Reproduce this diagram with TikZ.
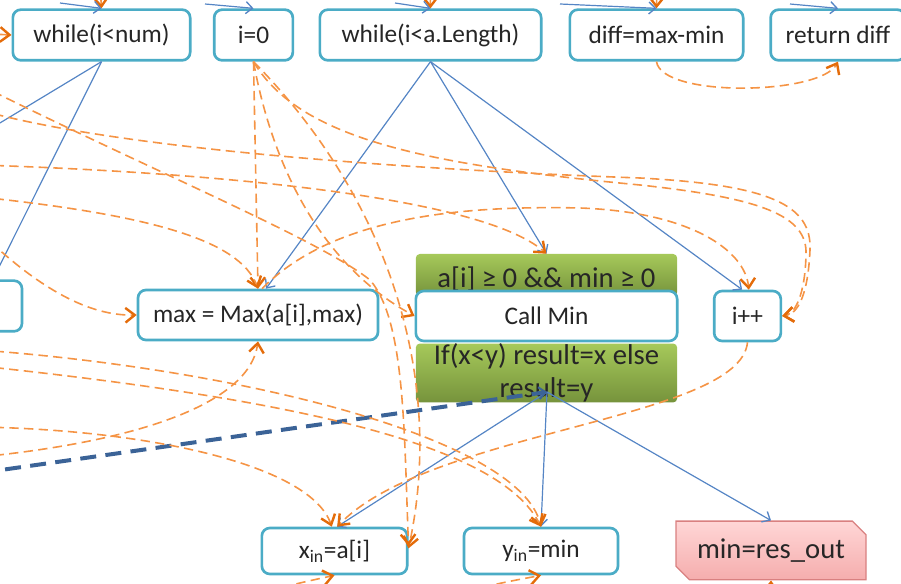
\documentclass[tikz,border=0pt]{standalone}
\usepackage{fontspec}
\setmainfont{Carlito}
\usetikzlibrary{arrows.meta,shapes.misc}
\definecolor{boxcyan}{HTML}{4BACC6}
\definecolor{flowor}{HTML}{F59445}
\definecolor{flowtip}{HTML}{E46C0A}
\definecolor{datab}{HTML}{5585C5}
\definecolor{callb}{HTML}{3B6397}
\definecolor{grlight}{HTML}{A6C95A}
\definecolor{grdark}{HTML}{76933C}
\definecolor{redtop}{HTML}{FFD6D6}
\definecolor{redbot}{HTML}{F5ADAD}
\definecolor{redline}{HTML}{D98080}
\begin{document}
\begin{tikzpicture}[x=0.75pt,y=-0.75pt,
    every node/.style={font=\fontsize{19}{25}\selectfont, text=black!85},
    stmt/.style={draw=boxcyan, line width=2pt, rounded corners=6pt, fill=white, minimum height=38pt, inner sep=2pt},
    guard/.style={rectangle, rounded corners=3pt, top color=grlight, bottom color=grdark, minimum width=196pt, inner ysep=0pt, align=center, font=\fontsize{21.5}{25}\selectfont},
    outp/.style={chamfered rectangle, chamfered rectangle corners={north east,south west}, chamfered rectangle xsep=7pt, draw=redline, line width=1pt, top color=redtop, bottom color=redbot, font=\fontsize{21.5}{25}\selectfont},
    flow/.style={draw=flowor, line width=1.2pt, dash pattern=on 7pt off 4pt, -{Straight Barb[length=7pt,width=11pt,color=flowtip,line width=1.8pt]}},
    data/.style={draw=datab, line width=0.9pt, -{Straight Barb[length=5pt,width=9pt,line width=1pt]}},
    call/.style={draw=callb, line width=3pt, dash pattern=on 12pt off 7pt, -{Straight Barb[length=5pt,width=9pt,line width=1.5pt]}}]
    \useasboundingbox (0,0) rectangle (901,584);
    \clip (0,0) rectangle (901,584);
    % statements
    \node[stmt, minimum width=133pt] (wnum) at (101.5,35) {while(i<num)};
    \node[stmt, minimum width=59pt] (izero) at (253.5,35) {i=0};
    \node[stmt, minimum width=166pt] (wlen) at (430.5,35) {while(i<a.Length)};
    \node[stmt, minimum width=130pt] (diff) at (656.5,35) {diff=max-min};
    \node[stmt, minimum width=101pt] (ret) at (838,35) {return diff};
    \node[stmt, minimum width=60pt] (prev) at (-18,306) {};
    \node[stmt, minimum width=180pt, minimum height=37.5pt] (maxn) at (258,315) {max = Max(a[i],max)};
    % call block
    \node[guard, minimum height=31.5pt, text height=20pt, text depth=1pt] (cond) at (546.5,275) {a[i] ≥ 0 \&\& min ≥ 0};
    \node[guard, minimum height=40pt] (body) at (546.5,373) {If(x<y) result=x else\\result=y};
    \node[stmt, minimum width=196pt, minimum height=37.5pt] (callmin) at (546.5,316) {Call Min};
    \node[stmt, minimum width=50pt, minimum height=37.5pt] (ipp) at (747.5,316) {i++};
    \node[stmt, minimum width=109pt, minimum height=34.5pt] (xin) at (334.5,551) {x\textsubscript{in}=a[i]};
    \node[stmt, minimum width=115.5pt, minimum height=34.5pt] (yin) at (541,551) {y\textsubscript{in}=min};
    \node[outp, minimum width=142.5pt, minimum height=44pt] (minres) at (771,550.5) {min=res\_out};
    \coordinate (res) at (547,392);
    % ends outside the view
    \coordinate (inA) at (-20,85);
    \coordinate (inB) at (-20,110);
    \coordinate (inC) at (-20,165);
    \coordinate (inD) at (-20,197);
    \coordinate (inE) at (-20,232);
    \coordinate (inF) at (-20,350);
    \coordinate (inG) at (-20,366);
    \coordinate (inH) at (-20,427);
    \coordinate (inI) at (-20,457);
    \coordinate (inJ) at (-20,473);
    \coordinate (outA) at (-20,135);
    \coordinate (outB) at (-20,305);
    % data flow
    \draw[data] (wnum.south) -- (outA);
    \draw[data] (wnum.south) -- (outB);
    \draw[data] (wlen.south) -- ([xshift=6pt]maxn.north);
    \draw[data] (wlen.south) -- (cond.north);
    \draw[data] (wlen.south) -- ([xshift=-4pt]ipp.north);
    \draw[data] (res) -- ([xshift=2pt]xin.north);
    \draw[data] (res) -- (yin.north);
    \draw[data] (res) -- (minres.north);
    \draw[call] (inJ) -- (res);
    % control flow
    \draw[flow] (diff.south) .. controls (662,98) and (820,95) .. (ret.south);
    \draw[flow] (izero.south) -- (maxn.north);
    \draw[flow] (izero.south) .. controls (275,180) and (330,270) .. (callmin.west);
    \draw[flow] (izero.south) .. controls (390,200) and (445,380) .. ([yshift=2pt]xin.east);
    \draw[flow] (izero.south) .. controls (300,140) and (430,165) .. (640,185) .. controls (760,198) and (808,215) .. (806,255) .. controls (805,295) and (795,314) .. (ipp.east);
    \draw[flow] (inB) .. controls (120,150) and (420,170) .. (640,178) .. controls (770,185) and (812,205) .. (810,250) .. controls (808,295) and (798,314) .. (ipp.east);
    \draw[flow] (inA) .. controls (150,170) and (320,240) .. (370,280) .. controls (405,320) and (404,430) .. ([yshift=4pt]xin.east);
    \draw[flow] (inC) .. controls (200,172) and (480,195) .. (cond.north);
    \draw[flow] (inD) .. controls (150,215) and (240,240) .. (maxn.north);
    \draw[flow] (inE) .. controls (40,290) and (90,316) .. (maxn.west);
    \draw[flow] ([xshift=3pt]maxn.north) .. controls (330,220) and (450,205) .. (580,208) .. controls (690,212) and (745,250) .. ([xshift=1pt]ipp.north);
    \draw[flow] (inF) .. controls (250,370) and (520,440) .. (yin.north);
    \draw[flow] (inG) .. controls (300,400) and (500,445) .. (yin.north);
    \draw[flow] (inH) .. controls (150,430) and (310,465) .. ([xshift=-2pt]xin.north);
    \draw[flow] (inI) .. controls (150,440) and (250,400) .. (maxn.south);
    \draw[flow] (ipp.south) .. controls (740,420) and (430,430) .. ([xshift=2pt]xin.north);
    % stubs from the rest of the graph
    \coordinate (topA) at (99,-30);
    \coordinate (topB) at (430,-30);
    \coordinate (topC) at (657,-30);
    \coordinate (topD) at (60,3);
    \coordinate (topE) at (205,4);
    \coordinate (topF) at (395,3);
    \coordinate (topG) at (560,4);
    \coordinate (topH) at (790,4);
    \coordinate (sideA) at (-30,33);
    \coordinate (botA) at (240,600);
    \coordinate (botB) at (440,600);
    \coordinate (botC) at (770,620);
    \draw[flow] (topA) -- (wnum.north);
    \draw[flow] (topB) -- (wlen.north);
    \draw[flow] (topC) -- (diff.north);
    \draw[flow] (sideA) -- (wnum.west);
    \draw[data] (topD) -- (wnum.north);
    \draw[data] (topE) -- (izero.north);
    \draw[data] (topF) -- (wlen.north);
    \draw[data] (topG) -- (diff.north);
    \draw[data] (topH) -- (ret.north);
    \draw[flow] (botA) .. controls (290,585) .. (xin.south);
    \draw[flow] (botB) .. controls (490,585) .. (yin.south);
    \draw[flow] (botC) -- (minres.south);
\end{tikzpicture}
\end{document}
